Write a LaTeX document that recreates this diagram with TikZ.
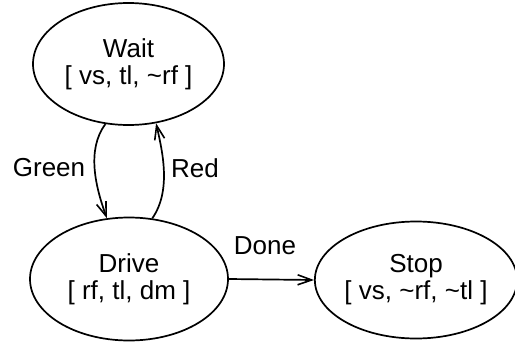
\documentclass[tikz,border=0pt]{standalone}
\usepackage{fontspec}
\setmainfont{Liberation Sans}
\usetikzlibrary{arrows.meta,shapes.geometric}
\begin{document}
\begin{tikzpicture}[x=1pt,y=-1pt,
  state/.style={draw,line width=1.7pt,ellipse,inner sep=0pt,align=center,font=\fontsize{26}{27}\selectfont},
  trans/.style={line width=1.7pt,-{Straight Barb[length=14pt,width=10pt,line width=1.6pt]}},
  lbl/.style={font=\fontsize{26}{27}\selectfont,inner sep=0pt}]
\useasboundingbox (0,0) rectangle (515,341);
% states
\node[state,minimum width=191pt,minimum height=122pt] (wait) at (128.5,64) {Wait\\{[} vs, tl, \textasciitilde rf ]};
\node[state,minimum width=198pt,minimum height=123pt] (drive) at (129,279) {Drive\\{[} rf, tl, dm ]};
\node[state,minimum width=194pt,minimum height=117pt] (stop) at (416,280) {Stop\\{[} vs, \textasciitilde rf, \textasciitilde tl ]};
% transitions
\draw[trans] (wait.-111) .. controls (86,150) and (96,188) .. (drive.110);
\draw[trans] (drive.69) .. controls (172,190) and (162,150) .. (wait.-65);
\draw[trans] (drive.east) -- (stop.west);
% transition labels
\node[lbl] (lgreen) at (49,168) {Green};
\node[lbl] (lred) at (195,168) {Red};
\node[lbl] (ldone) at (265,246) {Done};
\end{tikzpicture}
\end{document}
